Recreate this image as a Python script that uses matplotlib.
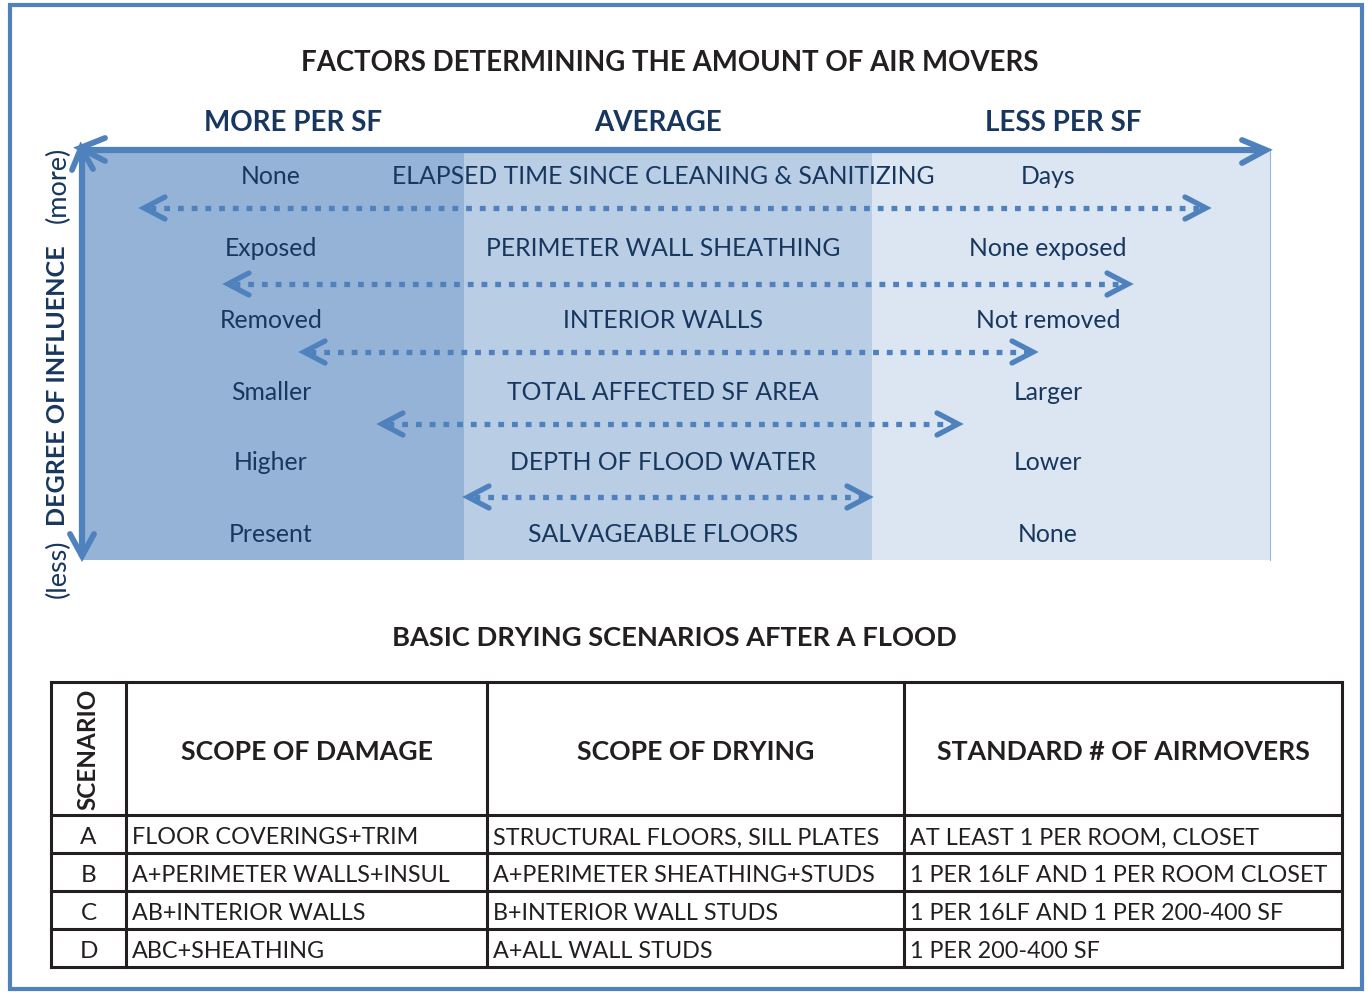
import matplotlib
matplotlib.use("Agg")
import matplotlib.pyplot as plt
from matplotlib.patches import Rectangle

# ---------------- data ----------------
title_top = "FACTORS DETERMINING THE AMOUNT OF AIR MOVERS"
col_heads = ["MORE PER SF", "AVERAGE", "LESS PER SF"]
factors = ["ELAPSED TIME SINCE CLEANING & SANITIZING", "PERIMETER WALL SHEATHING",
           "INTERIOR WALLS", "TOTAL AFFECTED SF AREA", "DEPTH OF FLOOD WATER",
           "SALVAGEABLE FLOORS"]
more_side = ["None", "Exposed", "Removed", "Smaller", "Higher", "Present"]
less_side = ["Days", "None exposed", "Not removed", "Larger", "Lower", "None"]
# extent of each influence arrow on a 0..1 scale across the panel (left, right)
influence_left = [0.0505, 0.1212, 0.1852, 0.2508, 0.3232]
influence_right = [0.9478, 0.8822, 0.8022, 0.7391, 0.6633]

title_table = "BASIC DRYING SCENARIOS AFTER A FLOOD"
table_head = ["SCENARIO", "SCOPE OF DAMAGE", "SCOPE OF DRYING", "STANDARD # OF AIRMOVERS"]
scenarios = ["A", "B", "C", "D"]
damage = ["FLOOR COVERINGS+TRIM", "A+PERIMETER WALLS+INSUL", "AB+INTERIOR WALLS", "ABC+SHEATHING"]
drying = ["STRUCTURAL FLOORS, SILL PLATES", "A+PERIMETER SHEATHING+STUDS",
          "B+INTERIOR WALL STUDS", "A+ALL WALL STUDS"]
airmovers = ["AT LEAST 1 PER ROOM, CLOSET", "1 PER 16LF AND 1 PER ROOM CLOSET",
             "1 PER 16LF AND 1 PER 200-400 SF", "1 PER 200-400 SF"]

# ---------------- style ----------------
FONT = "Lato"
BLUE = "#4f81bd"
NAVY = "#17375e"
DARK = "#95b3d7"
MID = "#b9cde5"
LIGHT = "#dce6f2"
BLACK = "#231f20"

fig = plt.figure(figsize=(13.68, 9.92), dpi=100)
ax = fig.add_axes([0, 0, 1, 1])
ax.set_xlim(0, 1368)
ax.set_ylim(992, 0)
ax.axis("off")

# outer frame
ax.add_patch(Rectangle((10, 5), 1352, 984, fill=False, ec=BLUE, lw=3))

ax.text(670, 63, title_top, ha="center", va="center", fontsize=19.9, fontweight="bold",
        color=BLACK, family=FONT)

# panels
PX0, PX1, PX2, PX3 = 82, 464, 872, 1270
PY0, PY1 = 150, 560
ax.add_patch(Rectangle((PX0, PY0), PX1 - PX0, PY1 - PY0, fc=DARK, ec="none"))
ax.add_patch(Rectangle((PX1, PY0), PX2 - PX1, PY1 - PY0, fc=MID, ec="none"))
ax.add_patch(Rectangle((PX2, PY0), PX3 - PX2, PY1 - PY0, fc=LIGHT, ec="none"))
ax.plot([PX3, PX3], [PY0, PY1], color="#9bb5d9", lw=0.8)

for xc, h in zip([293, 658, 1063], col_heads):
    ax.text(xc, 123, h, ha="center", va="center", fontsize=20, fontweight="bold",
            color=NAVY, family=FONT)

def chevron(tip, d1, d2, lw):
    x, y = tip
    ax.plot([x + d1[0], x, x + d2[0]], [y + d1[1], y, y + d2[1]], color=BLUE, lw=lw,
            solid_capstyle="round", solid_joinstyle="miter", zorder=5)

# main axes arrows
ax.plot([PX0, 1266], [PY0, PY0], color=BLUE, lw=4.5, solid_capstyle="butt", zorder=5)
ax.plot([PX0, PX0], [PY0, 557], color=BLUE, lw=4.5, solid_capstyle="butt", zorder=5)
chevron((1266, 150), (-24, -10), (-24, 13), 4.2)
chevron((80, 148), (25, -10), (25, 13), 4.2)
chevron((81, 148), (-9, 22), (12, 21), 4.2)
chevron((82, 556), (-12, -22), (12, -22), 4.2)

# factor rows
row_y = [177, 249, 320, 392, 463, 535]
for y, f, m, l in zip(row_y, factors, more_side, less_side):
    ax.text(271, y, m, ha="center", va="center", fontsize=17.8, color=NAVY, family=FONT)
    ax.text(663, y, f, ha="center", va="center", fontsize=17.8, color=NAVY, family=FONT)
    ax.text(1048, y, l, ha="center", va="center", fontsize=17.8, color=NAVY, family=FONT)

arrow_y = [208, 284, 352, 424, 497]
span = PX3 - PX0
for y, a, b in zip(arrow_y, influence_left, influence_right):
    x0 = PX0 + a * span + 2
    x1 = PX0 + b * span - 2
    ax.plot([x0 + 6, x1 - 6], [y, y], color=BLUE, lw=3.8, linestyle=(0, (1.1, 1.5)),
            dash_capstyle="butt", zorder=4)
    chevron((x0, y), (21, -11), (21, 11), 3.8)
    chevron((x1, y), (-21, -11), (-21, 11), 3.8)

# vertical label
ax.text(58, 569, "(less)", rotation=90, ha="center", va="center", fontsize=19.5,
        color=NAVY, family=FONT)
ax.text(58, 386, "DEGREE OF INFLUENCE", rotation=90, ha="center", va="center", fontsize=18.1,
        fontweight="bold", color=NAVY, family=FONT)
ax.text(58, 185, "(more)", rotation=90, ha="center", va="center", fontsize=19.5,
        color=NAVY, family=FONT)

# ---------------- table ----------------
ax.text(674, 638, title_table, ha="center", va="center", fontsize=19.6, fontweight="bold",
        color=BLACK, family=FONT)

cols = [51, 126, 487, 904, 1342]
rows = [682, 815, 853, 891, 929, 967]
for x in cols:
    ax.plot([x, x], [rows[0], rows[-1]], color=BLACK, lw=2.2, solid_capstyle="projecting")
for y in rows:
    ax.plot([cols[0], cols[-1]], [y, y], color=BLACK, lw=2.2, solid_capstyle="projecting")

ax.text(88, 749, table_head[0], rotation=90, ha="center", va="center", fontsize=17.5,
        fontweight="bold", color=BLACK, family=FONT)
for i in range(1, 4):
    ax.text((cols[i] + cols[i + 1]) / 2, 752, table_head[i], ha="center", va="center",
            fontsize=19.2, fontweight="bold", color=BLACK, family=FONT)

for r, (s, d, dr, am) in enumerate(zip(scenarios, damage, drying, airmovers)):
    yc = (rows[r + 1] + rows[r + 2]) / 2 + 4
    ax.text((cols[0] + cols[1]) / 2, yc, s, ha="center", va="center", fontsize=17.5,
            color=BLACK, family=FONT)
    for ci, txt in zip([1, 2, 3], [d, dr, am]):
        ax.text(cols[ci] + 6, yc, txt, ha="left", va="center", fontsize=16.8,
                color=BLACK, family=FONT)

fig.savefig("out.png", dpi=100)
